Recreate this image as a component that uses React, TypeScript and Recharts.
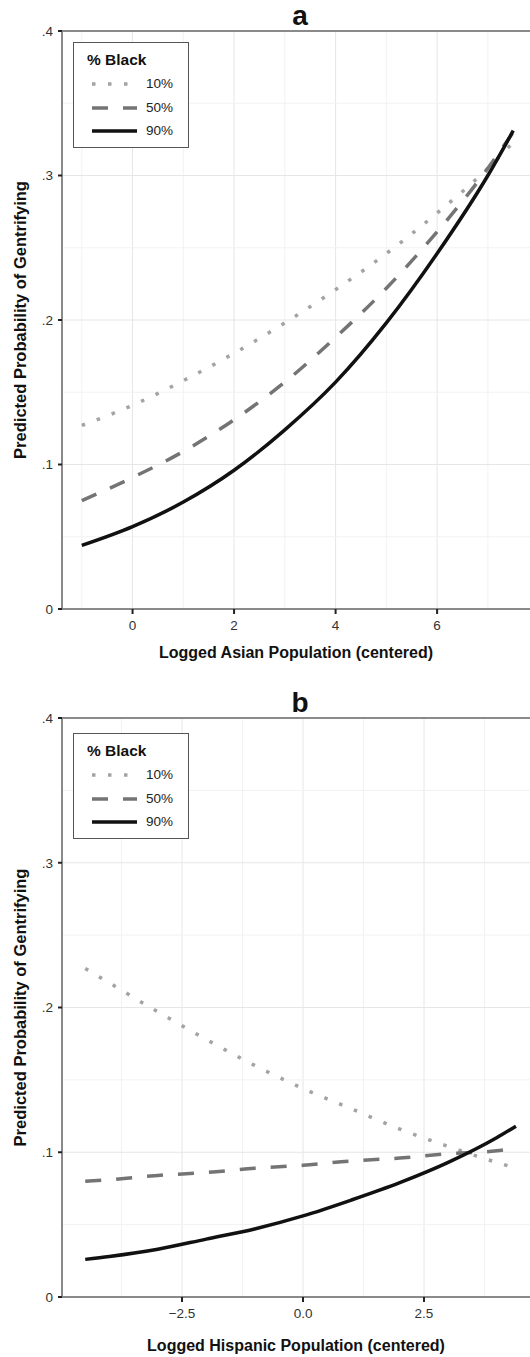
import React from 'react';
import { LineChart, Line, XAxis, YAxis, ReferenceLine } from 'recharts';

// panel a: logged Asian population
const asianX = [-1, 0, 1, 2, 3, 4, 5, 6, 7, 7.5];
const asian10 = [0.127, 0.141, 0.158, 0.177, 0.198, 0.221, 0.246, 0.274, 0.305, 0.323];
const asian50 = [0.075, 0.091, 0.109, 0.131, 0.157, 0.188, 0.222, 0.261, 0.305, 0.33];
const asian90 = [0.044, 0.057, 0.074, 0.096, 0.124, 0.157, 0.198, 0.246, 0.3, 0.331];

// panel b: logged Hispanic population
const hispX = [-4.5, -4, -3, -2, -1, 0, 1, 2, 3, 4, 4.4];
const hisp10 = [0.227, 0.217, 0.197, 0.178, 0.16, 0.144, 0.13, 0.116, 0.104, 0.093, 0.089];
const hisp50 = [0.08, 0.081, 0.084, 0.086, 0.089, 0.091, 0.094, 0.096, 0.099, 0.101, 0.103];
const hisp90 = [0.026, 0.028, 0.033, 0.04, 0.047, 0.056, 0.067, 0.079, 0.093, 0.11, 0.118];

const yTicks = [0, 0.1, 0.2, 0.3, 0.4];
const yMinor = [0.05, 0.15, 0.25, 0.35];
const asianTicks = [0, 2, 4, 6];
const asianMinor = [-1, 1, 3, 5, 7];
const hispTicks = [-2.5, 0, 2.5];
const hispMinor = [-3.75, -1.25, 1.25, 3.75];

const seriesNames = ['10%', '50%', '90%'];

const FONT = 'Liberation Sans, Arial, sans-serif';
const AXIS = '#8a8a8a';
const GRID_MAJOR = '#e6e6e6';
const GRID_MINOR = '#f2f2f2';

const styles = [
  { stroke: '#a3a3a3', dash: '3.5 12.5', width: 3.5 },
  { stroke: '#747474', dash: '16 15', width: 3.5 },
  { stroke: '#111111', dash: undefined, width: 3.5 },
];

const fmtY = (v: number) => (v === 0 ? '0' : String(v).replace(/^0/, ''));
const fmtHisp = (v: number) => (v < 0 ? '\u2212' + Math.abs(v).toFixed(1) : v.toFixed(1));

const LegendBox = ({ top }: { top: number }) => (
  <div
    style={{
      position: 'absolute',
      left: 73,
      top,
      border: '1px solid #555',
      background: '#fff',
      width: 116,
      height: 106,
      boxSizing: 'border-box',
      fontFamily: FONT,
      zIndex: 2,
    }}
  >
    <div style={{ position: 'absolute', left: 13, top: 8, fontWeight: 'bold', fontSize: 15.5, color: '#111' }}>% Black</div>
    {seriesNames.map((n, i) => (
      <div key={n} style={{ position: 'absolute', left: 0, top: 32 + i * 23.5, height: 18, width: 115 }}>
        <svg width={70} height={18} style={{ position: 'absolute', left: 0, top: 0 }}>
          <line
            x1={18}
            x2={63}
            y1={9}
            y2={9}
            stroke={styles[i].stroke}
            strokeWidth={styles[i].width}
            strokeDasharray={styles[i].dash}
          />
        </svg>
        <span style={{ position: 'absolute', left: 72, top: 1, fontSize: 13.5, color: '#222' }}>{n}</span>
      </div>
    ))}
  </div>
);

type PanelProps = {
  title: string;
  xs: number[];
  series: number[][];
  xDomain: [number, number];
  ticks: number[];
  minor: number[];
  fmtX: (v: number) => string;
  xLabel: string;
  height: number;
  marginTop: number;
  xAxisHeight: number;
  xLabelOffset: number;
  legendTop: number;
  titleTop: number;
};

const Panel = (p: PanelProps) => {
  const data = p.xs.map((x, i) => ({
    x,
    s0: p.series[0][i],
    s1: p.series[1][i],
    s2: p.series[2][i],
  }));
  return (
    <div style={{ position: 'relative', width: 530, height: p.height }}>
      <div
        style={{
          position: 'absolute',
          left: 250,
          width: 100,
          textAlign: 'center',
          top: p.titleTop,
          fontFamily: FONT,
          fontWeight: 'bold',
          fontSize: 28,
          lineHeight: '28px',
          color: '#111',
          zIndex: 2,
        }}
      >
        {p.title}
      </div>
      <LegendBox top={p.legendTop} />
      <LineChart
        width={530}
        height={p.height}
        data={data}
        margin={{ top: p.marginTop, right: 0, bottom: 0, left: 0 }}
        style={{ fontFamily: FONT }}
      >
        {p.minor.map((v) => (
          <ReferenceLine key={'vm' + v} x={v} stroke={GRID_MINOR} strokeWidth={1} />
        ))}
        {p.ticks.map((v) => (
          <ReferenceLine key={'vM' + v} x={v} stroke={GRID_MAJOR} strokeWidth={1} />
        ))}
        {yMinor.map((v) => (
          <ReferenceLine key={'hm' + v} y={v} stroke={GRID_MINOR} strokeWidth={1} />
        ))}
        {yTicks.slice(1, 4).map((v) => (
          <ReferenceLine key={'hM' + v} y={v} stroke={GRID_MAJOR} strokeWidth={1} />
        ))}
        <ReferenceLine y={0.4} stroke={AXIS} strokeWidth={2} />
        <XAxis
          dataKey="x"
          type="number"
          domain={p.xDomain}
          allowDataOverflow
          ticks={p.ticks}
          tickFormatter={p.fmtX}
          height={p.xAxisHeight}
          axisLine={{ stroke: AXIS, strokeWidth: 2 }}
          tickLine={{ stroke: '#222', strokeWidth: 2 }}
          tickSize={5}
          tickMargin={6}
          tick={{ fill: '#333', fontSize: 13.5 }}
          label={{
            value: p.xLabel,
            position: 'insideBottom',
            offset: p.xLabelOffset,
            style: { fontWeight: 'bold', fontSize: 16, fill: '#111' },
          }}
        />
        <YAxis
          type="number"
          domain={[0, 0.4]}
          ticks={yTicks}
          tickFormatter={fmtY}
          width={62}
          axisLine={{ stroke: AXIS, strokeWidth: 2 }}
          tickLine={{ stroke: '#222', strokeWidth: 2 }}
          tickSize={4}
          tickMargin={5}
          tick={{ fill: '#333', fontSize: 13.5 }}
          label={{
            value: 'Predicted Probability of Gentrifying',
            angle: -90,
            position: 'insideLeft',
            offset: 20,
            style: { fontWeight: 'bold', fontSize: 16.5, fill: '#111', textAnchor: 'middle' },
          }}
        />
        {['s0', 's1', 's2'].map((k, i) => (
          <Line
            key={k}
            dataKey={k}
            name={seriesNames[i]}
            type="monotone"
            stroke={styles[i].stroke}
            strokeWidth={styles[i].width}
            strokeDasharray={styles[i].dash}
            dot={false}
            activeDot={false}
            isAnimationActive={false}
          />
        ))}
      </LineChart>
    </div>
  );
};

export default function App() {
  return (
    <div style={{ position: 'absolute', left: 0, top: 0, width: 530, height: 1357, background: '#fff' }}>
      <Panel
        title="a"
        xs={asianX}
        series={[asian10, asian50, asian90]}
        xDomain={[-1.39, 7.83]}
        ticks={asianTicks}
        minor={asianMinor}
        fmtX={(v) => String(v)}
        xLabel="Logged Asian Population (centered)"
        height={680}
        marginTop={31}
        xAxisHeight={71}
        xLabelOffset={22}
        legendTop={42}
        titleTop={2}
      />
      <Panel
        title="b"
        xs={hispX}
        series={[hisp10, hisp50, hisp90]}
        xDomain={[-4.98, 4.69]}
        ticks={hispTicks}
        minor={hispMinor}
        fmtX={fmtHisp}
        xLabel="Logged Hispanic Population (centered)"
        height={677}
        marginTop={38}
        xAxisHeight={60}
        xLabelOffset={6}
        legendTop={53}
        titleTop={9}
      />
    </div>
  );
}
